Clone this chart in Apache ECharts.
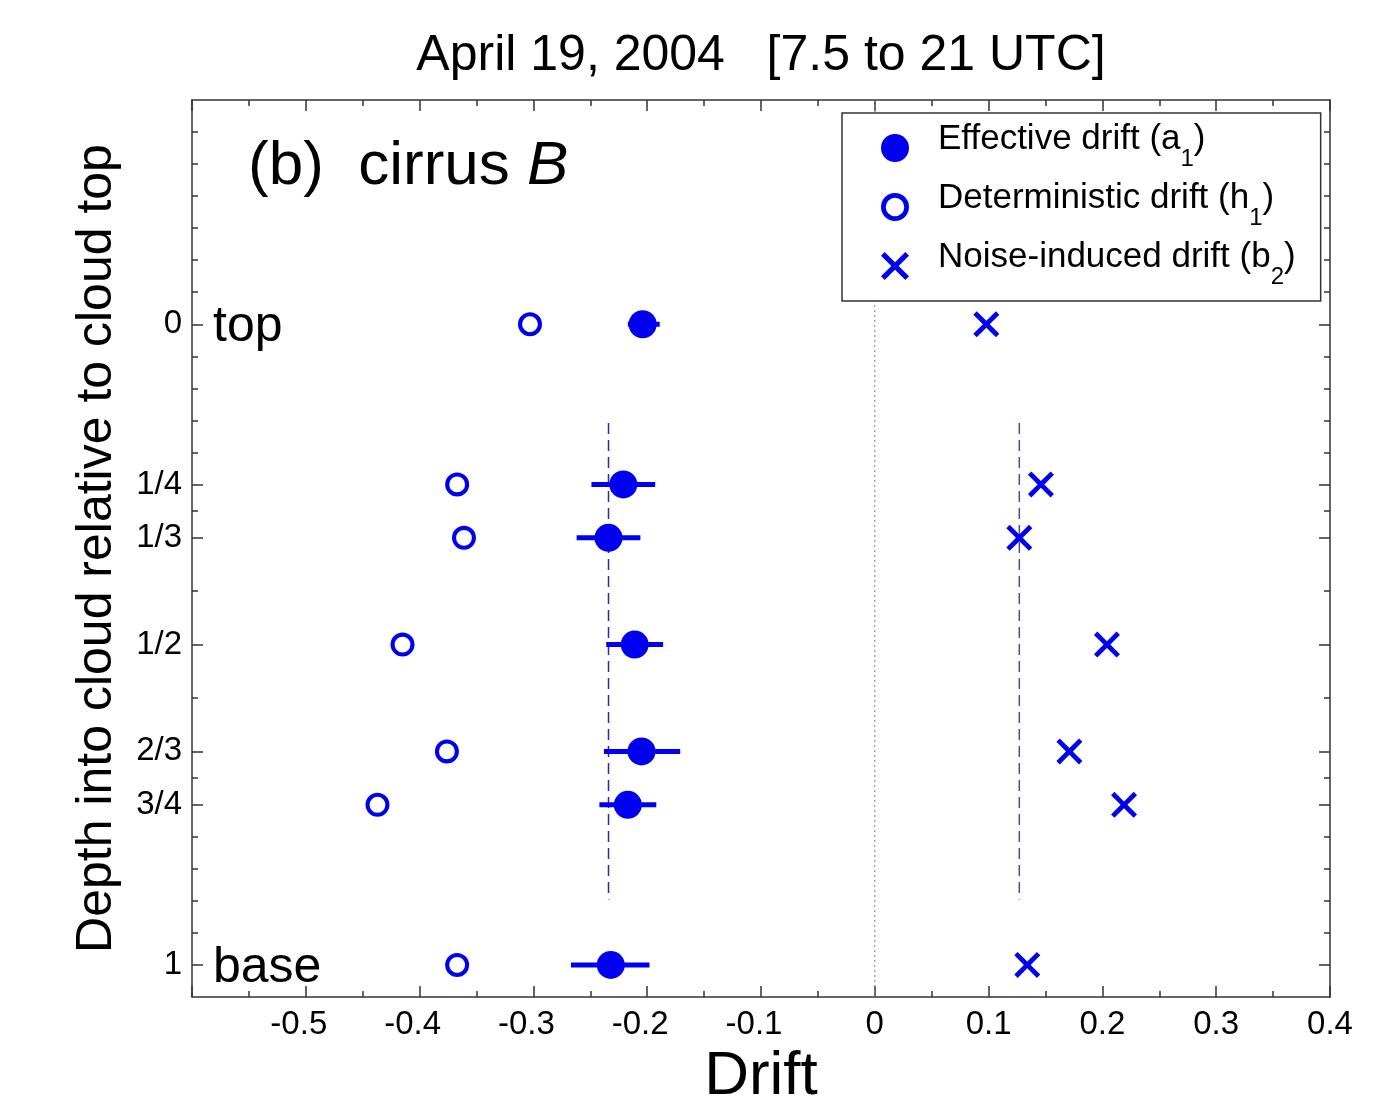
<!DOCTYPE html>
<html>
<head>
<meta charset="utf-8">
<title>April 19, 2004 - cirrus B drift</title>
<script src="https://cdn.jsdelivr.net/npm/echarts@6.0.0/dist/echarts.min.js"></script>
<style>
  html, body { margin: 0; padding: 0; background: #fff; }
  #main { width: 1395px; height: 1098px; }
</style>
</head>
<body>
<div id="main"></div>
<script>
var FONT = '"Liberation Sans", Arial, Helvetica, sans-serif';
var BLUE = '#0000f0';
var AXIS = '#333';

// depth into cloud (fraction of depth, 0 = top, 1 = base)
var depths = [0, 1/4, 1/3, 1/2, 2/3, 3/4, 1];
var depthLabels = ['0', '1/4', '1/3', '1/2', '2/3', '3/4', '1'];
var depthMinorTicks = [-0.3, -0.25, -0.2, -0.15, -0.1, -0.05, 0.05, 0.1, 0.15, 0.2,
  7/24, 5/12, 7/12, 17/24, 0.8, 0.85, 0.9, 0.95];

// effective drift a1 with its error range
var effDrift = [-0.204, -0.221, -0.234, -0.211, -0.205, -0.217, -0.232];
var effLow   = [-0.217, -0.249, -0.262, -0.236, -0.238, -0.242, -0.267];
var effHigh  = [-0.189, -0.193, -0.206, -0.186, -0.171, -0.192, -0.198];
// deterministic drift h1
var detDrift = [-0.303, -0.367, -0.361, -0.415, -0.376, -0.437, -0.367];
// noise-induced drift b2
var noiseDrift = [0.098, 0.146, 0.127, 0.204, 0.171, 0.219, 0.134];

// dashed reference lines (x value, depth span)
var meanEff = -0.234;
var meanNoise = 0.127;
var meanSpan = [0.154, 0.898];

var sideLabels = [[0, 'top'], [1, 'base']];

var xPath = 'path://M0,13L13,0L50,37L87,0L100,13L63,50L100,87L87,100L50,63L13,100L0,87L37,50Z';
var ringPath = 'path://M50,0A50,50,0,1,1,50,100A50,50,0,1,1,50,0ZM50,17A33,33,0,1,0,50,83A33,33,0,1,0,50,17Z';

function pairs(xs) {
  return xs.map(function (v, i) { return [v, depths[i]]; });
}
function depthLabel(v) {
  for (var i = 0; i < depths.length; i++) {
    if (Math.abs(depths[i] - v) < 1e-6) return depthLabels[i];
  }
  return '';
}

var chart = echarts.init(document.getElementById('main'));

var majorY = function (pos, showLabel) {
  return {
    type: 'value', position: pos, inverse: true, min: -0.35, max: 1.05,
    name: showLabel ? 'Depth into cloud relative to cloud top' : '',
    nameLocation: 'middle', nameGap: 70, nameRotate: 90,
    nameTextStyle: { fontFamily: FONT, fontSize: 50, color: '#000' },
    axisLine: { show: true, onZero: false, lineStyle: { color: AXIS, width: 1.5 } },
    axisTick: { show: true, inside: true, length: 11, customValues: depths,
      lineStyle: { color: AXIS, width: 1.5 } },
    axisLabel: { show: showLabel, customValues: depths, margin: 10,
      fontFamily: FONT, fontSize: 33, color: '#000', formatter: depthLabel },
    splitLine: { show: false }
  };
};
var minorY = function (pos) {
  return {
    type: 'value', position: pos, inverse: true, min: -0.35, max: 1.05,
    axisLine: { show: false, onZero: false },
    axisTick: { show: true, inside: true, length: 6, customValues: depthMinorTicks,
      lineStyle: { color: AXIS, width: 1.5 } },
    axisLabel: { show: false },
    splitLine: { show: false }
  };
};
var xAx = function (pos, showLabel) {
  return {
    type: 'value', position: pos, min: -0.6, max: 0.4, interval: 0.1,
    name: showLabel ? 'Drift' : '',
    nameLocation: 'middle', nameGap: 49,
    nameTextStyle: { fontFamily: FONT, fontSize: 62, color: '#000' },
    axisLine: { show: true, onZero: false, lineStyle: { color: AXIS, width: 1.5 } },
    axisTick: { show: true, inside: true, length: 11, lineStyle: { color: AXIS, width: 1.5 } },
    minorTick: { show: true, splitNumber: 2, length: 6, lineStyle: { color: AXIS, width: 1.5 } },
    axisLabel: { show: showLabel, margin: 11, fontFamily: FONT, fontSize: 33, color: '#000',
      showMinLabel: false,
      formatter: function (v) {
        if (Math.abs(v) < 1e-9) return '0';
        var s = String(+v.toFixed(1));
        return v < 0 ? '{neg|' + s + '}' : s;
      },
      rich: { neg: { fontFamily: FONT, fontSize: 33, color: '#000', padding: [0, 14, 0, 0] } } },
    splitLine: { show: false }
  };
};

var option = {
  backgroundColor: '#fff',
  animation: false,
  title: {
    text: 'April 19, 2004   [7.5 to 21 UTC]',
    left: 761, top: 31, textAlign: 'center', padding: 0,
    textStyle: { fontFamily: FONT, fontSize: 50, fontWeight: 'normal', color: '#000' }
  },
  grid: { left: 192, right: 65, top: 100, bottom: 101, containLabel: false, outerBoundsMode: 'none' },
  xAxis: [xAx('bottom', true), xAx('top', false)],
  yAxis: [majorY('left', true), minorY('left'), majorY('right', false), minorY('right')],
  legend: {
    left: 842, top: 113, orient: 'vertical',
    data: ['a1', 'h1', 'b2'],
    backgroundColor: '#fff', borderColor: AXIS, borderWidth: 1.5, borderRadius: 0,
    padding: [9, 25, 12, 39], itemGap: 10, itemWidth: 28, itemHeight: 28,
    formatter: function (name) {
      var map = { a1: ['Effective drift (a', '1'], h1: ['Deterministic drift (h', '1'], b2: ['Noise-induced drift (b', '2'] };
      return '{n|' + map[name][0] + '}{s|' + map[name][1] + '}{n|)}';
    },
    textStyle: {
      padding: [0, 0, 16, 24],
      rich: {
        n: { fontFamily: FONT, fontSize: 35, lineHeight: 36, color: '#000', verticalAlign: 'top' },
        s: { fontFamily: FONT, fontSize: 24, lineHeight: 24, color: '#000', verticalAlign: 'top', padding: [25, 0, 0, 0] }
      }
    }
  },
  graphic: [{
    type: 'text', left: 248, top: 136, z: 10,
    style: {
      text: '{n|(b)  cirrus }{i|B}',
      rich: {
        n: { fontFamily: FONT, fontSize: 62, fill: '#000' },
        i: { fontFamily: FONT, fontSize: 62, fontStyle: 'italic', fill: '#000' }
      }
    }
  }],
  series: [
    {
      name: 'zero', type: 'line', silent: true, symbol: 'none', z: 1,
      data: [[0, -0.35], [0, 1.05]],
      lineStyle: { color: '#7a7a9a', width: 1, type: [2, 3] }
    },
    {
      name: 'meanA', type: 'line', silent: true, symbol: 'none', z: 1,
      data: [[meanEff, meanSpan[0]], [meanEff, meanSpan[1]]],
      lineStyle: { color: '#2a2a9a', width: 1.5, type: [11, 6] }
    },
    {
      name: 'meanB', type: 'line', silent: true, symbol: 'none', z: 1,
      data: [[meanNoise, meanSpan[0]], [meanNoise, meanSpan[1]]],
      lineStyle: { color: '#4a4aa0', width: 1.5, type: [11, 6] }
    },
    {
      name: 'errA', type: 'custom', silent: true, z: 2,
      data: effLow.map(function (lo, i) { return [lo, effHigh[i], depths[i]]; }),
      renderItem: function (params, api) {
        var p0 = api.coord([api.value(0), api.value(2)]);
        var p1 = api.coord([api.value(1), api.value(2)]);
        return { type: 'line', shape: { x1: p0[0], y1: p0[1], x2: p1[0], y2: p1[1] },
          style: { stroke: BLUE, lineWidth: 5 } };
      },
      encode: { x: [0, 1], y: 2 }
    },
    {
      name: 'a1', type: 'scatter', z: 3, symbol: 'circle', symbolSize: 28,
      itemStyle: { color: BLUE, opacity: 1 },
      data: pairs(effDrift)
    },
    {
      name: 'h1', type: 'scatter', z: 3, symbol: ringPath, symbolSize: 24,
      itemStyle: { color: BLUE, opacity: 1 },
      data: pairs(detDrift)
    },
    {
      name: 'b2', type: 'scatter', z: 3, symbol: xPath, symbolSize: 26,
      itemStyle: { color: BLUE, opacity: 1 },
      data: pairs(noiseDrift)
    },
    {
      name: 'sides', type: 'scatter', silent: true, symbolSize: 0, z: 4,
      itemStyle: { opacity: 1 },
      data: sideLabels.map(function (d) { return [-0.6, d[0], d[1]]; }),
      label: { show: true, position: 'right', distance: 21, offset: [0, 3], fontFamily: FONT, fontSize: 50, color: '#000',
        formatter: function (p) { return p.value[2]; } }
    }
  ]
};

chart.setOption(option);
</script>
</body>
</html>
